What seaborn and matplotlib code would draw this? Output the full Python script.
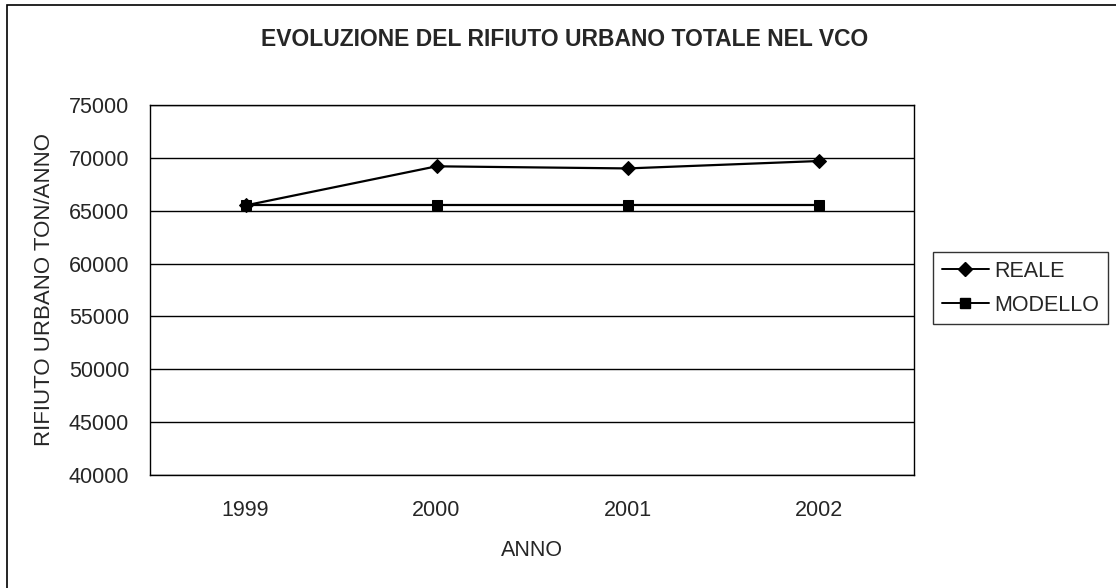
import matplotlib
matplotlib.use("Agg")
import matplotlib.pyplot as plt
from matplotlib.patches import Rectangle
from matplotlib.lines import Line2D
from matplotlib.ticker import FixedLocator, NullFormatter
import seaborn as sns
import pandas as pd

anni = ["1999", "2000", "2001", "2002"]
reale = [65500, 69200, 69000, 69700]
modello = [65500, 65500, 65500, 65500]
y_ticks = [40000, 45000, 50000, 55000, 60000, 65000, 70000, 75000]

sns.set_theme(style="white")
plt.rcParams["font.family"] = ["Liberation Sans", "DejaVu Sans"]

FS = 15.5

df = pd.DataFrame({
    "ANNO": anni * 2,
    "valore": reale + modello,
    "serie": ["REALE"] * len(anni) + ["MODELLO"] * len(anni),
})
df["pos"] = df["ANNO"].map({a: i for i, a in enumerate(anni)})

fig = plt.figure(figsize=(11.16, 5.88), dpi=100)
fig.patch.set_facecolor("white")
ax = fig.add_axes([150 / 1116, 1 - 475 / 588, (914 - 150) / 1116, (475 - 105) / 588])

sns.lineplot(
    data=df, x="pos", y="valore", hue="serie", style="serie",
    hue_order=["REALE", "MODELLO"], style_order=["REALE", "MODELLO"],
    palette=["black", "black"], markers={"REALE": "D", "MODELLO": "s"},
    dashes=False, linewidth=1.6, markersize=7, markeredgecolor="black",
    ax=ax, legend=False,
)

ax.set_xlim(-0.5, len(anni) - 0.5)
ax.set_ylim(40000, 75000)
ax.set_yticks(y_ticks)
ax.set_yticklabels([str(v) for v in y_ticks], fontsize=FS)
ax.set_xticks(range(len(anni)))
ax.set_xticklabels(anni, fontsize=FS)
ax.xaxis.set_minor_locator(FixedLocator([i - 0.5 for i in range(len(anni) + 1)]))
ax.xaxis.set_minor_formatter(NullFormatter())
ax.tick_params(axis="x", which="major", length=0, pad=18)
ax.tick_params(axis="x", which="minor", length=7, width=1, color="black", direction="out")
ax.tick_params(axis="y", which="major", length=7, width=1, color="black", direction="out", pad=8)

ax.grid(axis="y", color="black", linewidth=1)
ax.set_axisbelow(True)
for s in ax.spines.values():
    s.set_visible(True)
    s.set_color("black")
    s.set_linewidth(1)

ax.set_xlabel("ANNO", fontsize=FS, labelpad=14)
ax.set_ylabel("RIFIUTO URBANO TON/ANNO", fontsize=16, labelpad=10)

fig.text(565 / 1116, 1 - 39 / 588, "EVOLUZIONE DEL RIFIUTO URBANO TOTALE NEL VCO",
         ha="center", va="center", fontsize=16.5, fontweight="bold")

handles = [
    Line2D([], [], color="black", lw=1.4, marker="D", markersize=7),
    Line2D([], [], color="black", lw=1.4, marker="s", markersize=7),
]
leg = fig.legend(handles, ["REALE", "MODELLO"], loc="upper left",
                 bbox_to_anchor=(933 / 1116, 1 - 252 / 588), frameon=True,
                 fancybox=False, edgecolor="black", fontsize=FS,
                 handlelength=2.2, handletextpad=0.25, borderpad=0.4,
                 labelspacing=0.6, borderaxespad=0)
leg.get_frame().set_linewidth(1)

# chart-area border (extends past right/bottom edge)
fig.patches.append(Rectangle((7 / 1116, -0.1), 1.2, 1 - 5 / 588 + 0.1,
                             transform=fig.transFigure, fill=False,
                             edgecolor="black", linewidth=1.2))

fig.savefig("out.png", dpi=100, facecolor="white")
